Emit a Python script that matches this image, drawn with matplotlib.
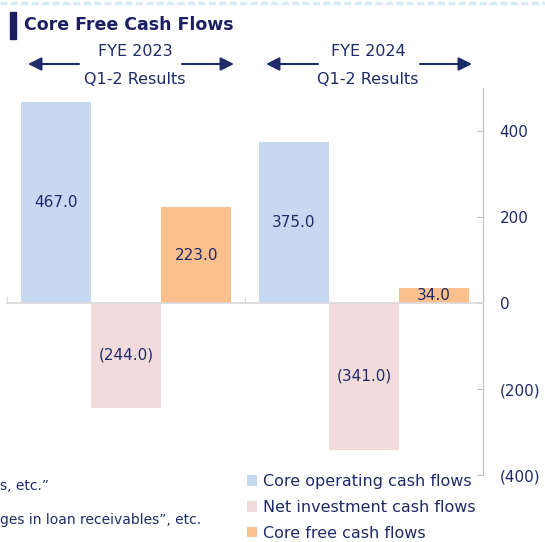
import numpy as np
import matplotlib
matplotlib.use("Agg")
import matplotlib.pyplot as plt
from matplotlib.lines import Line2D
from matplotlib.patches import Rectangle, FancyArrowPatch
from matplotlib.ticker import FuncFormatter

# данные
periods = ["FYE 2023", "FYE 2024"]
period_sub = ["Q1-2 Results", "Q1-2 Results"]
series = ["Core operating cash flows", "Net investment cash flows", "Core free cash flows"]
core_operating = [467.0, 375.0]
net_investment = [-244.0, -341.0]
core_free = [223.0, 34.0]
yticks = [-400, -200, 0, 200, 400]
footnotes = ["s, etc.\u201d", "ges in loan receivables\u201d, etc."]

navy = "#1f2a68"
colors = ["#c6d9f0", "#f2dcdb", "#fac18f"]

plt.rcParams["font.family"] = ["DejaVu Sans"]

fig = plt.figure(figsize=(5.45, 5.42), dpi=100)
ax = fig.add_axes([7 / 545, 1 - 475 / 542, (483 - 7) / 545, (475 - 88) / 542])

x = np.arange(len(periods))
w = 0.295
values = [core_operating, net_investment, core_free]
for i, (vals, col, name) in enumerate(zip(values, colors, series)):
    pos = x + (i - 1) * w
    ax.bar(pos, vals, width=w, color=col, label=name, zorder=2)
    for p, v in zip(pos, vals):
        txt = f"{v:.1f}" if v >= 0 else f"({-v:.1f})"
        ax.text(p, v / 2, txt, ha="center", va="center", fontsize=11, color=navy, zorder=3)

ax.set_xlim(-0.5, 1.5)
ax.set_ylim(-400, 500)

# оси
for s in ["left", "top"]:
    ax.spines[s].set_visible(False)
ax.spines["right"].set_color("#bfbfbf")
ax.spines["bottom"].set_position(("data", 0))
ax.spines["bottom"].set_color("#d9d9d9")
ax.spines["bottom"].set_linewidth(1.2)
ax.set_xticks([-0.5, 0.5, 1.5])
ax.set_xticklabels([])
ax.tick_params(axis="x", direction="in", length=4, color="#d9d9d9")

ax.yaxis.tick_right()
ax.set_yticks(yticks)
ax.yaxis.set_major_formatter(FuncFormatter(lambda v, _: f"{int(v)}" if v >= 0 else f"({int(-v)})"))
ax.tick_params(axis="y", direction="in", length=4, color="#bfbfbf", labelcolor=navy,
               labelsize=11, pad=12)

# заголовок
fig.add_artist(Rectangle((10 / 545, 1 - 39 / 542), 6 / 545, 27 / 542,
                         transform=fig.transFigure, color="#1b1f5f"))
fig.text(24 / 545, 1 - 25 / 542, "Core Free Cash Flows", fontsize=12.5, fontweight="bold",
         color="#1b1f5f", va="center", ha="left")
fig.add_artist(Line2D([0, 1], [1 - 3 / 542, 1 - 3 / 542], transform=fig.transFigure,
                      color="#d8ecf6", lw=2.5, dashes=(2, 1)))

# подписи периодов со стрелками
heads = [(135, 28, 79, 182, 234), (368, 266, 318, 420, 472)]
for (cx, l0, l1, r0, r1), per, sub in zip(heads, periods, period_sub):
    fig.text(cx / 545, 1 - 52 / 542, per, fontsize=11.5, color=navy, ha="center", va="center")
    fig.text(cx / 545, 1 - 80 / 542, sub, fontsize=11.5, color=navy, ha="center", va="center")
    yy = 1 - 64 / 542
    for a, b in [(l1, l0), (r0, r1)]:
        fig.add_artist(FancyArrowPatch(
            (a / 545, yy), (b / 545, yy), transform=fig.transFigure,
            arrowstyle="-|>,head_length=0.8,head_width=0.4", mutation_scale=10,
            color=navy, lw=1.5, shrinkA=0, shrinkB=0))

# сноски
fig.text(0, 1 - 486 / 542, footnotes[0], fontsize=10, color=navy, ha="left", va="center")
fig.text(0, 1 - 520 / 542, footnotes[1], fontsize=10, color=navy, ha="left", va="center")

leg = ax.legend(loc="upper left", bbox_to_anchor=(247 / 545, 1 - 474 / 542),
                bbox_transform=fig.transFigure, frameon=False, fontsize=11.5,
                handlelength=0.65, handleheight=0.65, handletextpad=0.35,
                labelspacing=0.68, borderpad=0, borderaxespad=0)
for t in leg.get_texts():
    t.set_color(navy)

fig.savefig("out.png", dpi=100)
